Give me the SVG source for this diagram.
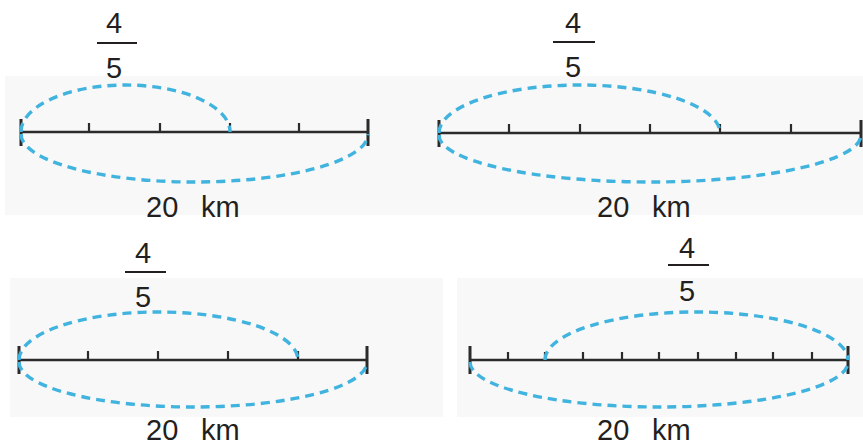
<svg xmlns="http://www.w3.org/2000/svg" width="863" height="445" viewBox="0 0 863 445">
<style>
.bg{fill:#f8f8f8}
.t{font-family:"Liberation Sans",Arial,sans-serif;font-size:29px;fill:#231f20}
.c{text-anchor:middle}
.ax{stroke:#2b2b2b;stroke-width:2.6;fill:none}
.cap{stroke:#2b2b2b;stroke-width:3}
.tk{stroke:#2b2b2b;stroke-width:2.2}
.bar{stroke:#231f20;stroke-width:2.2}
.arc{fill:none;stroke:#40b3de;stroke-width:3.4;stroke-dasharray:9 6;stroke-linecap:butt}
</style>
<rect width="863" height="445" fill="#ffffff"/>
<rect class="bg" x="5" y="76" width="858" height="139"/>
<rect class="bg" x="10" y="278" width="433" height="139"/>
<rect class="bg" x="457" y="278" width="406" height="139"/>
<g id="panel-top-left">
<text class="t c" x="114" y="33">4</text>
<line class="bar" x1="97" y1="43" x2="137" y2="43"/>
<text class="t c" x="114" y="78">5</text>
<line class="ax" x1="21" y1="132" x2="368" y2="132"/>
<line class="cap" x1="21" y1="119" x2="21" y2="146"/>
<line class="cap" x1="368" y1="119" x2="368" y2="146"/>
<path class="tk" d="M89,123V132M160,123V132M230,123V132M299,123V132"/>
<text class="t" x="146" y="217">20</text>
<text class="t" x="201" y="217">km</text>
</g>
<g id="panel-top-right">
<text class="t c" x="573" y="33">4</text>
<line class="bar" x1="553" y1="42" x2="595" y2="42"/>
<text class="t c" x="573" y="77">5</text>
<line class="ax" x1="439" y1="133" x2="861" y2="133"/>
<line class="cap" x1="439" y1="120" x2="439" y2="147"/>
<line class="cap" x1="861" y1="120" x2="861" y2="147"/>
<path class="tk" d="M509,124V133M580,124V133M650,124V133M720,124V133M791,124V133"/>
<text class="t" x="597" y="217">20</text>
<text class="t" x="652" y="217">km</text>
</g>
<g id="panel-bottom-left">
<text class="t c" x="143" y="263">4</text>
<line class="bar" x1="125" y1="272" x2="166" y2="272"/>
<text class="t c" x="143" y="307">5</text>
<line class="ax" x1="19" y1="360" x2="367" y2="360"/>
<line class="cap" x1="19" y1="346" x2="19" y2="374"/>
<line class="cap" x1="367" y1="346" x2="367" y2="374"/>
<path class="tk" d="M88,351V360M158,351V360M228,351V360M298,351V360"/>
<text class="t" x="146" y="440">20</text>
<text class="t" x="201" y="440">km</text>
</g>
<g id="panel-bottom-right">
<text class="t c" x="687" y="258">4</text>
<line class="bar" x1="668" y1="265" x2="709" y2="265"/>
<text class="t c" x="687" y="301">5</text>
<line class="ax" x1="470" y1="360" x2="848" y2="360"/>
<line class="cap" x1="470" y1="346" x2="470" y2="374"/>
<line class="cap" x1="848" y1="346" x2="848" y2="374"/>
<path class="tk" d="M508,352V360M545,352V360M583,352V360M622,352V360M659,352V360M698,352V360M736,352V360M773,352V360M812,352V360"/>
<text class="t" x="597" y="440">20</text>
<text class="t" x="652" y="440">km</text>
</g>
<g id="connectors">
<path class="arc" d="M21,132 A104.5,47 0 0 1 230,132"/>
<path class="arc" d="M21,134 A173.5,48 0 0 0 368,134"/>
<path class="arc" d="M439,133 A140.5,48 0 0 1 720,133"/>
<path class="arc" d="M439,135 A211,47 0 0 0 861,135"/>
<path class="arc" d="M19,360 A139.5,48 0 0 1 298,360"/>
<path class="arc" d="M19,362 A174,45 0 0 0 367,362"/>
<path class="arc" d="M545,360 A151.5,48 0 0 1 848,360"/>
<path class="arc" d="M470,362 A189,45 0 0 0 848,362"/>
</g>
</svg>
